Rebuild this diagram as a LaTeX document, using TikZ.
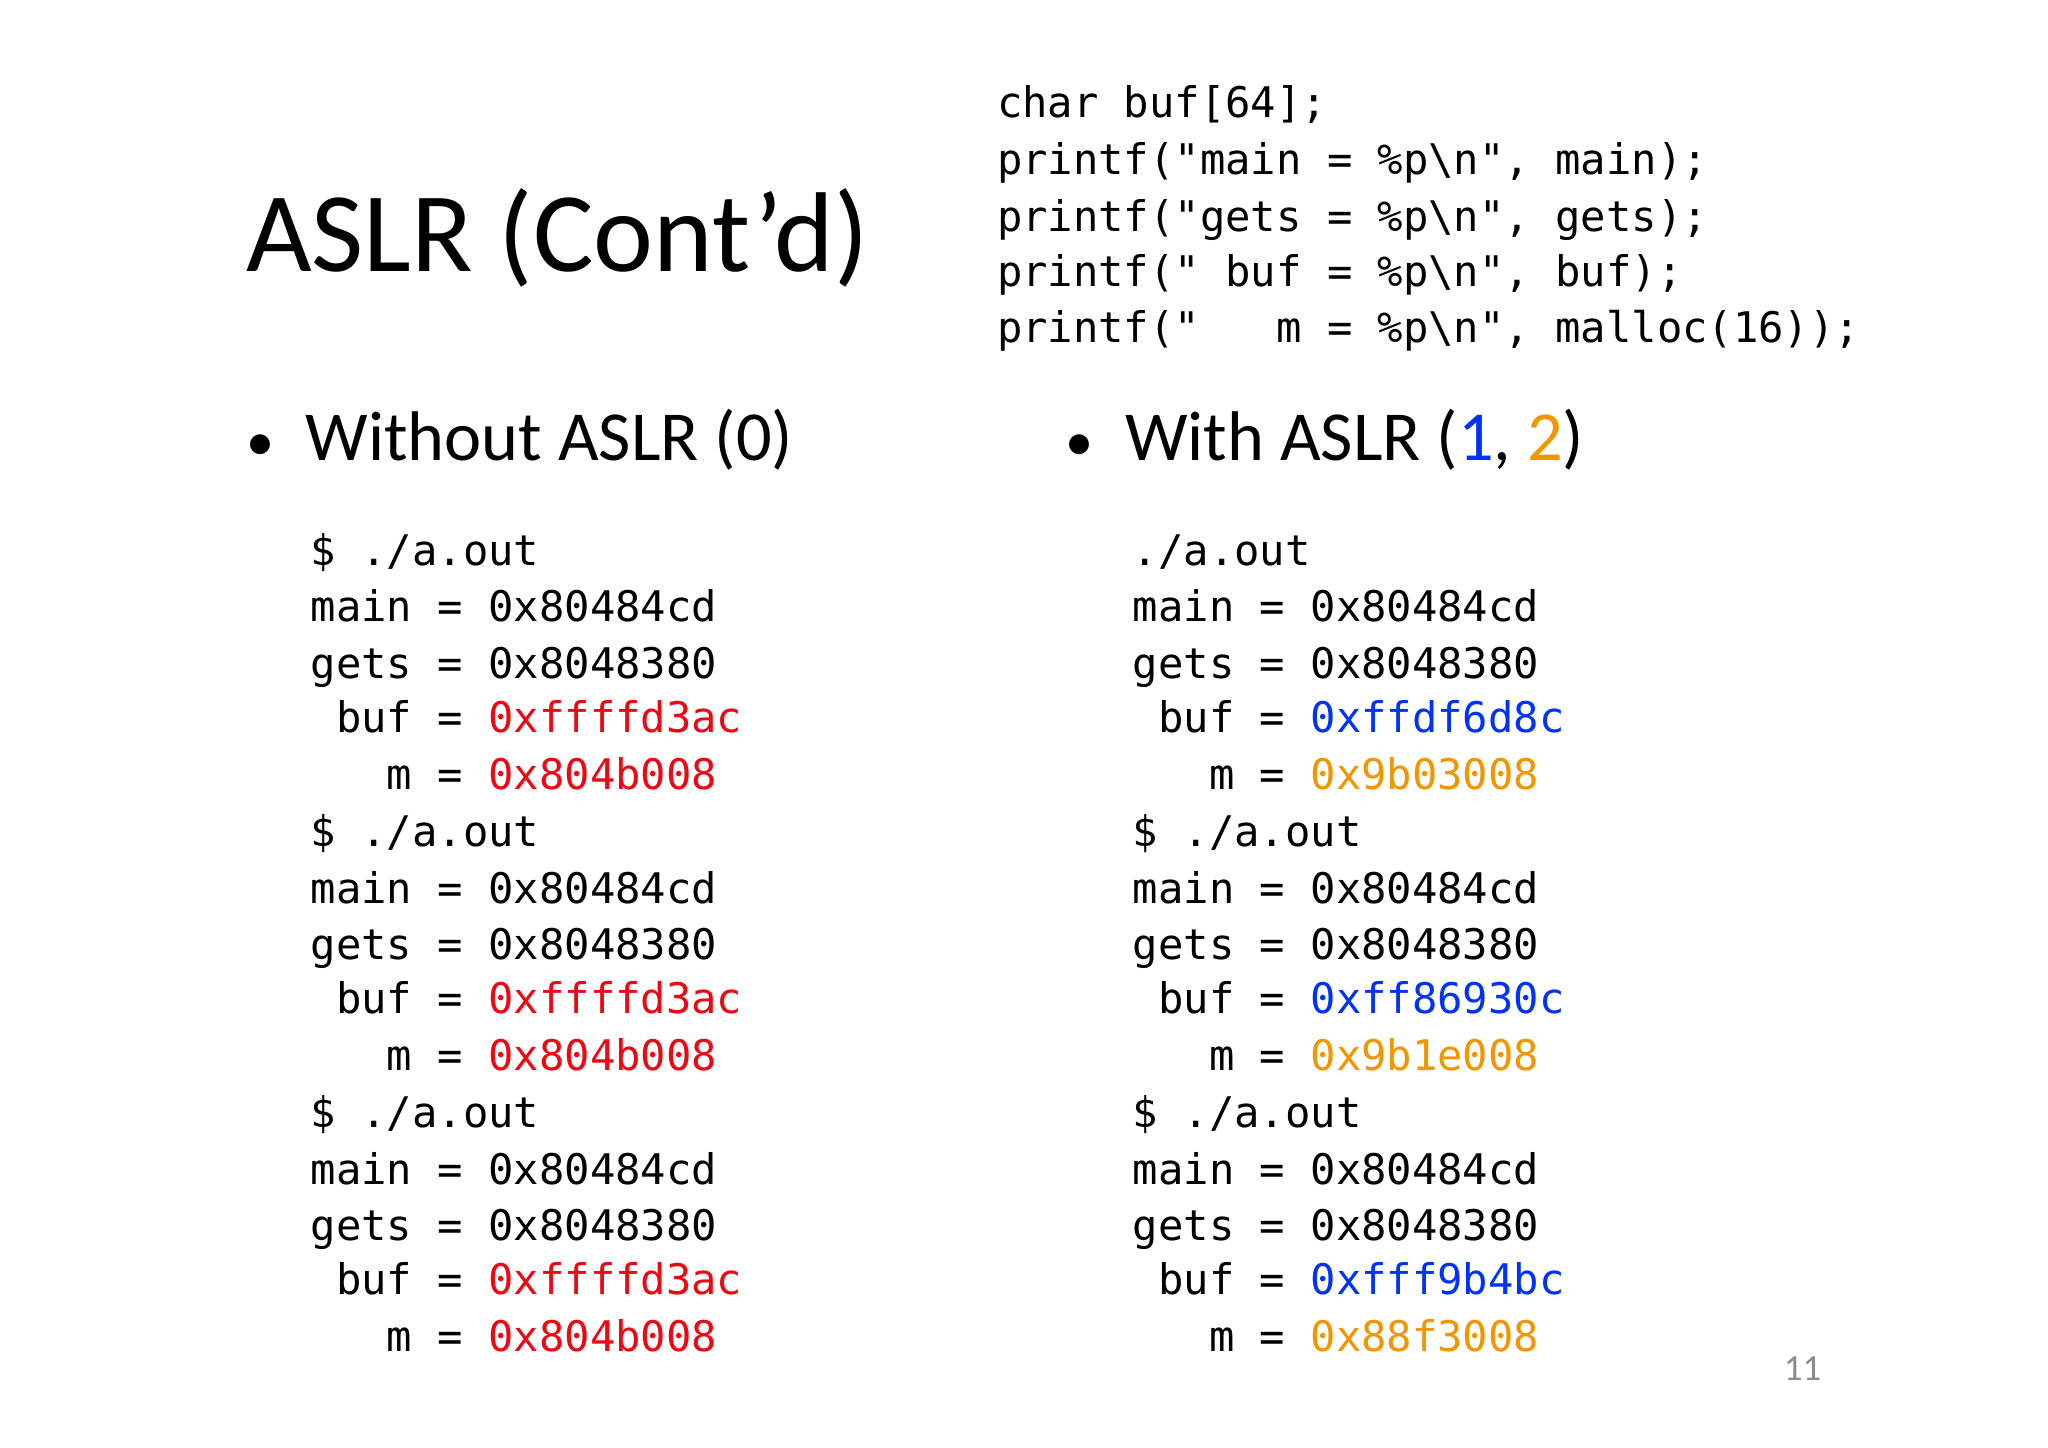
\documentclass[tikz,border=0pt]{standalone}
\usepackage{fontspec}
\setmainfont{Carlito}
\newfontfamily\code{DejaVu Sans Mono}
\definecolor{cred}{RGB}{235,10,20}
\definecolor{cblue}{RGB}{0,50,250}
\definecolor{corange}{RGB}{242,150,0}
\definecolor{pgray}{RGB}{140,140,140}
\begin{document}
\begin{tikzpicture}[x=0.0132cm,y=-0.0132cm,
  cl/.style={anchor=west,inner sep=0pt,font=\code\fontsize{12}{14}\selectfont,text height=0.75em,text depth=0.2em},
  bl/.style={anchor=west,inner sep=0pt,font=\fontsize{20}{24}\selectfont,text height=0.7em,text depth=0.2em}]
\fill[white] (0,0) rectangle (1552,1097);
\node[anchor=west,inner sep=0pt,font=\fontsize{32.3}{36}\selectfont] (title) at (186,180) {ASLR (Cont’d)};
\node[cl] (c1) at (755,82) {char buf[64];};
\node[cl] (c2) at (755,125) {printf("main = \%p\textbackslash n", main);};
\node[cl] (c3) at (755,168) {printf("gets = \%p\textbackslash n", gets);};
\node[cl] (c4) at (755,210) {printf("~buf = \%p\textbackslash n", buf);};
\node[cl] (c5) at (755,252) {printf("~~~m = \%p\textbackslash n", malloc(16));};
\node[bl] (b1) at (186,342) {{\fontsize{16}{20}\selectfont •}\hspace{0.45em}Without ASLR (0)};
\node[bl] (b2) at (807,342) {{\fontsize{16}{20}\selectfont •}\hspace{0.45em}With ASLR (\textcolor{cblue}{1}, \textcolor{corange}{2})};
\foreach \k/\y in {0/421,1/634,2/847}{
  \node[cl] (ls\k) at (235,\y) {\$ ./a.out};
  \node[cl] (lm\k) at (235,\y+43) {main = 0x80484cd};
  \node[cl] (lg\k) at (235,\y+86) {gets = 0x8048380};
  \node[cl] (lb\k) at (235,\y+127) {~buf = \textcolor{cred}{0xffffd3ac}};
  \node[cl] (lmm\k) at (235,\y+170) {~~~m = \textcolor{cred}{0x804b008}};
}
\foreach \k/\y/\pre/\b/\m in {0/421//0xffdf6d8c/0x9b03008,1/634/\$ /0xff86930c/0x9b1e008,2/847/\$ /0xfff9b4bc/0x88f3008}{
  \node[cl] (rs\k) at (858,\y) {\pre./a.out};
  \node[cl] (rm\k) at (858,\y+43) {main = 0x80484cd};
  \node[cl] (rg\k) at (858,\y+86) {gets = 0x8048380};
  \node[cl] (rb\k) at (858,\y+127) {~buf = \textcolor{cblue}{\b}};
  \node[cl] (rmm\k) at (858,\y+170) {~~~m = \textcolor{corange}{\m}};
}
\node[font=\fontsize{10.5}{12}\selectfont,text=pgray] (pg) at (1366,1037) {11};
\end{tikzpicture}
\end{document}
